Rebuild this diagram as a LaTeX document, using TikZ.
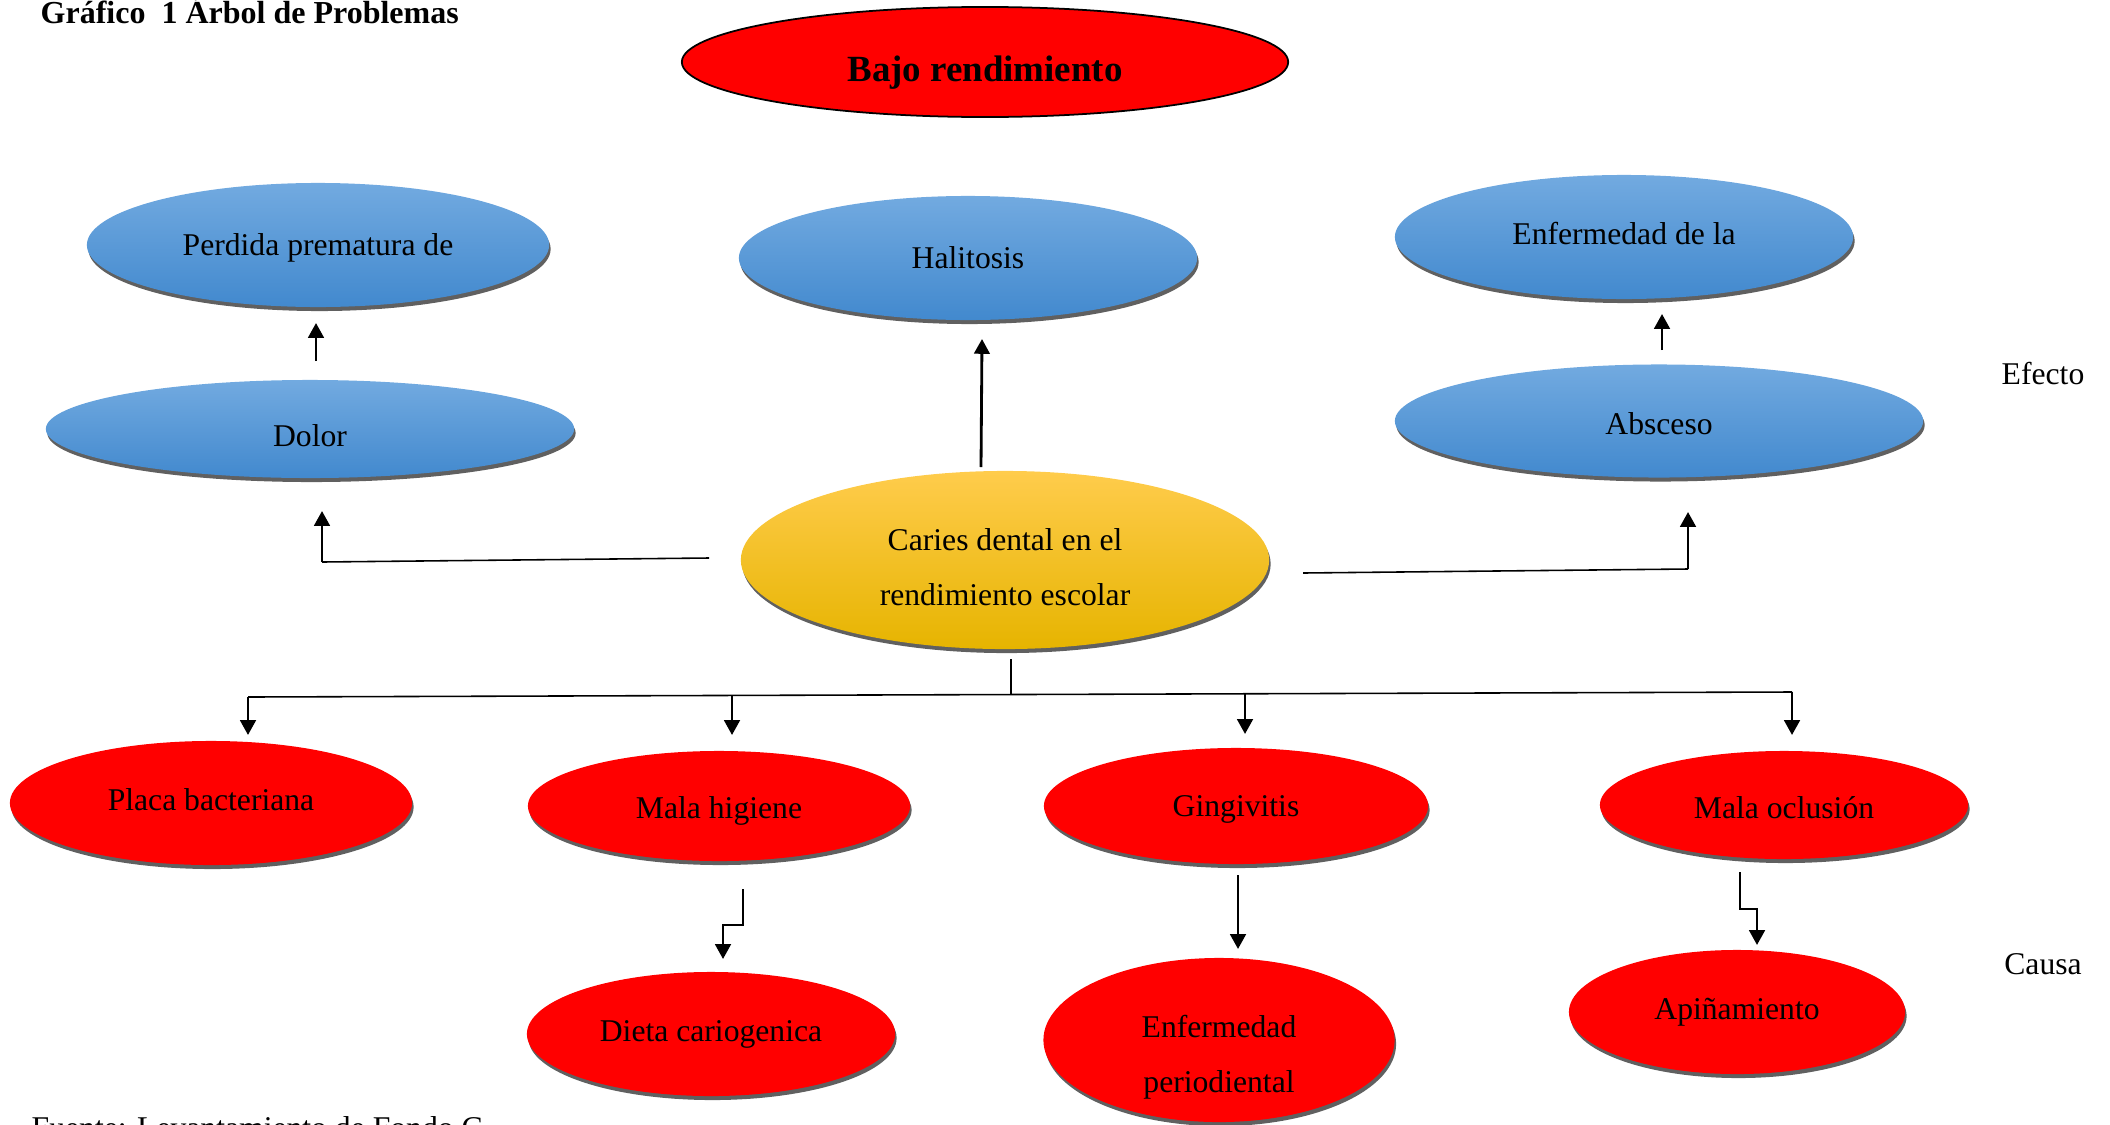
\documentclass[tikz,border=0pt]{standalone}
\usepackage{fontspec}
\setmainfont{Liberation Serif}
\usetikzlibrary{shapes.geometric,shadows,arrows.meta}

\definecolor{bleuHaut}{RGB}{114,170,224}
\definecolor{bleuBas}{RGB}{66,137,206}
\definecolor{jauneHaut}{RGB}{255,204,76}
\definecolor{jauneMilieu}{RGB}{255,194,0}
\definecolor{jauneBas}{RGB}{230,180,0}
\definecolor{rouge}{RGB}{255,0,0}
\definecolor{ombre}{RGB}{96,96,96}

% Decale le texte d'une bulle vers le bas sans changer sa boite
\newcommand{\baisse}[2]{\raisebox{-#1}[\height][\depth]{#2}}

\begin{document}
\begin{tikzpicture}[x=0.01cm, y=-0.01cm,
    bulle/.style={ellipse, inner sep=0pt, align=center,
      font=\fontsize{9}{15.6}\selectfont},
    ombree/.style={bulle,
      drop shadow={shadow xshift=0.015cm, shadow yshift=-0.04cm, fill=ombre, opacity=1}},
    effet/.style={ombree, top color=bleuHaut, bottom color=bleuBas},
    cause/.style={ombree, fill=rouge},
    centre/.style={ombree, top color=jauneHaut, middle color=jauneMilieu, bottom color=jauneBas},
    texte/.style={inner sep=0pt, font=\fontsize{9}{11}\selectfont},
    fleche/.style={-{Triangle[length=4.2pt, width=4.4pt]}, line width=0.8pt},
    trait/.style={line width=0.45pt}]

    % Cadre de la figure (le bas du texte de la source est coupe)
    \useasboundingbox (0,0) rectangle (2110,1124);
    \clip (0,0) rectangle (2110,1124);

    % Titre et source
    \node[texte, anchor=base west, font=\fontsize{9.1}{11}\selectfont\bfseries] (titre) at (40,24) {Gráfico\ \ 1 Árbol de Problemas};
    \node[texte, anchor=base west] (fuente) at (31,1138) {Fuente: Levantamiento de Fondo C};

    % Probleme final (en haut de l'arbre)
    \node[bulle, fill=rouge, draw=black, line width=0.5pt, minimum width=6.06cm, minimum height=1.1cm,
      font=\fontsize{10.5}{12}\selectfont\bfseries] (bajo) at (985,62) {\baisse{0.11cm}{Bajo rendimiento}};

    % Les effets (ellipses bleues)
    \node[effet, minimum width=4.62cm, minimum height=1.24cm] (perdida) at (318,245) {\baisse{0.03cm}{Perdida prematura de}};
    \node[effet, minimum width=4.58cm, minimum height=1.24cm] (halitosis) at (968,258) {Halitosis};
    \node[effet, minimum width=4.58cm, minimum height=1.24cm] (enfermedad) at (1624,237) {\baisse{-0.03cm}{Enfermedad de la}};
    \node[effet, minimum width=5.28cm, minimum height=0.98cm] (dolor) at (310,429) {\baisse{0.07cm}{Dolor}};
    \node[effet, minimum width=5.28cm, minimum height=1.13cm] (absceso) at (1659,421) {\baisse{0.03cm}{Absceso}};

    % Le probleme central
    \node[centre, minimum width=5.28cm, minimum height=1.78cm] (caries) at (1005,560)
      {\baisse{0.07cm}{\begin{tabular}{@{}c@{}}Caries dental en el\\rendimiento escolar\end{tabular}}};

    % Les causes (ellipses rouges)
    \node[cause, minimum width=4.02cm, minimum height=1.24cm] (placa) at (211,803) {\baisse{-0.03cm}{Placa bacteriana}};
    \node[cause, minimum width=3.82cm, minimum height=1.1cm] (higiene) at (719,806) {\baisse{0.05cm}{Mala higiene}};
    \node[cause, minimum width=3.84cm, minimum height=1.16cm] (gingivitis) at (1236,806) {\baisse{0.03cm}{Gingivitis}};
    \node[cause, minimum width=3.68cm, minimum height=1.08cm] (oclusion) at (1784,805) {\baisse{0.03cm}{Mala oclusión}};
    \node[cause, minimum width=3.68cm, minimum height=1.24cm] (dieta) at (711,1034) {Dieta cariogenica};
    \node[cause, minimum width=3.51cm, minimum height=1.64cm] (periodiental) at (1219,1040)
      {\baisse{0.14cm}{\begin{tabular}{@{}c@{}}Enfermedad\\periodiental\end{tabular}}};
    \node[cause, minimum width=3.36cm, minimum height=1.24cm] (apinamiento) at (1737,1012) {Apiñamiento};

    % Etiquettes a droite
    \node[texte] (efecto) at (2043,374) {Efecto};
    \node[texte] (causa) at (2043,964) {Causa};

    % Points d'appui des connecteurs (cote effets)
    \coordinate (D1) at (316,361);
    \coordinate (D2) at (316,323);
    \coordinate (H1) at (981,467);
    \coordinate (H2) at (982,339);
    \coordinate (A1) at (1662,350);
    \coordinate (A2) at (1662,314);
    \coordinate (G1) at (709,558);
    \coordinate (G2) at (322,562);
    \coordinate (G3) at (322,511);
    \coordinate (R1) at (1303,573);
    \coordinate (R2) at (1688,569);
    \coordinate (R3) at (1688,512);

    % Fleches vers les effets
    \draw[fleche] (D1) -- (D2);
    \draw[fleche] (H1) -- (H2);
    \draw[fleche] (A1) -- (A2);
    \draw[trait] (G1) -- (G2);
    \draw[fleche] (G2) -- (G3);
    \draw[trait] (R1) -- (R2);
    \draw[fleche] (R2) -- (R3);

    % Points d'appui des connecteurs (cote causes)
    \coordinate (C0) at (1011,659);
    \coordinate (C1) at (1011,695);
    \coordinate (B1) at (248,697);
    \coordinate (B2) at (732,696);
    \coordinate (B3) at (1245,694);
    \coordinate (B4) at (1792,692);
    \coordinate (T1) at (248,735);
    \coordinate (T2) at (732,735);
    \coordinate (T3) at (1245,734);
    \coordinate (T4) at (1792,735);

    % Tige et barre horizontale vers les causes
    \draw[trait] (C0) -- (C1);
    \draw[trait] (B1) -- (B4);
    \draw[fleche] (B1) -- (T1);
    \draw[fleche] (B2) -- (T2);
    \draw[fleche] (B3) -- (T3);
    \draw[fleche] (B4) -- (T4);

    % Causes secondaires
    \coordinate (M1) at (743,889);
    \coordinate (M2) at (723,959);
    \coordinate (P1) at (1238,875);
    \coordinate (P2) at (1238,949);
    \coordinate (O1) at (1740,872);
    \coordinate (O2) at (1757,945);
    \draw[fleche] (M1) -- (743,925) -| (M2);
    \draw[fleche] (P1) -- (P2);
    \draw[fleche] (O1) -- (1740,909) -| (O2);

\end{tikzpicture}
\end{document}
